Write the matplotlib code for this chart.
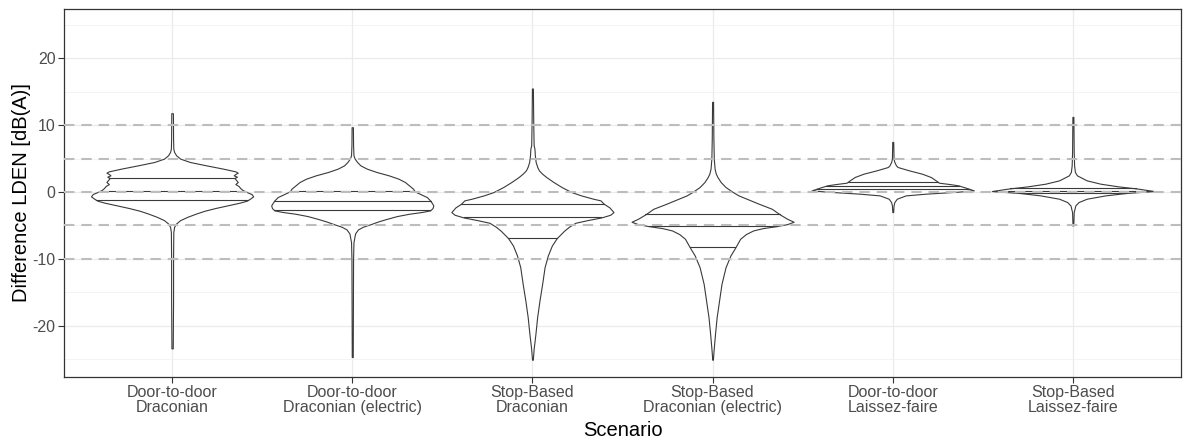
import numpy as np
import matplotlib
matplotlib.use("Agg")
import matplotlib.pyplot as plt

plt.rcParams['font.family'] = ['Liberation Sans', 'DejaVu Sans']
plt.rcParams['axes.unicode_minus'] = False

categories = ["Door-to-door\nDraconian", "Door-to-door\nDraconian (electric)",
              "Stop-Based\nDraconian", "Stop-Based\nDraconian (electric)",
              "Door-to-door\nLaissez-faire", "Stop-Based\nLaissez-faire"]

# Violin outlines: value levels and relative half-widths
v1_y = [11.8, 8.0, 6.5, 6.0, 5.5, 5.0, 4.5, 4.0, 3.5, 3.1, 2.9, 2.7, 2.5, 2.3, 2.1, 1.8, 1.5, 1.2, 0.9,
        0.6, 0.3, 0.0, -0.3, -0.65, -1.0, -1.3, -1.6, -2.0, -2.4, -2.8, -3.2, -3.7, -4.2, -4.7, -5.2,
        -6.0, -10.0, -16.0, -23.4]
v1_w = [0.01, 0.012, 0.015, 0.025, 0.05, 0.1, 0.22, 0.42, 0.63, 0.78, 0.81, 0.78, 0.76, 0.8, 0.77, 0.79,
        0.81, 0.78, 0.82, 0.84, 0.87, 0.92, 0.98, 1.0, 0.96, 0.92, 0.83, 0.68, 0.53, 0.4, 0.3, 0.19, 0.1,
        0.05, 0.025, 0.015, 0.012, 0.012, 0.008]

v2_y = [9.7, 7.0, 5.5, 5.0, 4.5, 4.0, 3.5, 3.0, 2.5, 2.0, 1.5, 1.0, 0.5, 0.1, -0.3, -0.75, -1.25, -1.6,
        -2.0, -2.4, -2.75, -3.0, -3.25, -3.6, -4.0, -4.4, -4.75, -5.2, -5.6, -6.2, -7.5, -10.0, -24.7]
v2_w = [0.008, 0.01, 0.015, 0.03, 0.06, 0.1, 0.18, 0.3, 0.45, 0.57, 0.65, 0.7, 0.75, 0.77, 0.84, 0.92,
        0.96, 0.98, 1.0, 0.99, 0.96, 0.85, 0.7, 0.55, 0.43, 0.32, 0.24, 0.13, 0.07, 0.035, 0.015, 0.01, 0.006]

v3_y = [15.5, 10.5, 7.0, 6.5, 5.5, 4.5, 3.75, 3.25, 2.75, 2.25, 1.5, 0.75, 0.0, -0.5, -1.0, -1.25, -1.75,
        -2.3, -3.0, -3.4, -3.8, -4.2, -4.6, -5.2, -5.8, -6.9, -8.0, -9.5, -11.25, -13.75, -16.25, -18.75,
        -21.25, -23.5, -25.1]
v3_w = [0.006, 0.01, 0.015, 0.025, 0.03, 0.04, 0.06, 0.08, 0.12, 0.17, 0.26, 0.36, 0.48, 0.6, 0.75, 0.84,
        0.88, 0.95, 1.0, 0.96, 0.85, 0.68, 0.53, 0.45, 0.39, 0.3, 0.24, 0.19, 0.15, 0.12, 0.087, 0.058,
        0.037, 0.015, 0.005]

v4_y = [13.5, 8.0, 5.0, 3.5, 2.75, 2.25, 1.5, 0.75, 0.0, -0.5, -1.0, -1.75, -2.5, -3.35, -4.0, -4.45,
        -4.8, -5.1, -5.4, -5.75, -6.3, -7.0, -8.3, -9.5, -11.25, -13.75, -16.25, -18.75, -21.25, -23.75, -25.1]
v4_w = [0.006, 0.01, 0.015, 0.025, 0.04, 0.06, 0.1, 0.16, 0.25, 0.32, 0.42, 0.57, 0.73, 0.83, 0.92, 1.0,
        0.92, 0.79, 0.62, 0.5, 0.41, 0.34, 0.28, 0.22, 0.16, 0.11, 0.08, 0.05, 0.03, 0.012, 0.004]

v5_y = [7.5, 5.0, 4.5, 4.0, 3.75, 3.25, 2.75, 2.25, 1.75, 1.4, 1.2, 1.0, 0.5, 0.25, 0.05, -0.25, -0.5,
        -1.0, -1.5, -2.0, -3.0]
v5_w = [0.006, 0.01, 0.02, 0.04, 0.06, 0.2, 0.36, 0.47, 0.53, 0.57, 0.7, 0.81, 0.94, 1.0, 0.8, 0.4, 0.16,
        0.05, 0.02, 0.01, 0.005]

v6_y = [11.25, 6.0, 4.0, 3.0, 2.5, 1.75, 1.25, 0.85, 0.5, 0.15, -0.15, -0.5, -1.0, -1.5, -2.0, -3.0, -5.0]
v6_w = [0.006, 0.01, 0.015, 0.025, 0.05, 0.17, 0.34, 0.56, 0.81, 1.0, 0.65, 0.4, 0.17, 0.07, 0.03, 0.01, 0.005]

q25 = [-1.2, -2.7, -6.9, -8.3, 0.5, -0.15]
q50 = [0.2, -1.4, -3.8, -5.1, 0.95, 0.2]
q75 = [2.05, 0.1, -1.8, -3.35, 1.55, 0.55]

ref_lines = [-10, -5, 0, 5, 10]

profiles = [(v1_y, v1_w), (v2_y, v2_w), (v3_y, v3_w), (v4_y, v4_w), (v5_y, v5_w), (v6_y, v6_w)]

fig = plt.figure(figsize=(11.83, 4.40), dpi=100)
ax = fig.add_axes([0.0541, 0.143, 0.9442, 0.8365])

half = 0.45
line_col = '#3a3a3a'
for i, (ys, ws) in enumerate(profiles):
    pos = i + 1
    ys = np.asarray(ys, float)
    ws = np.asarray(ws, float) * half
    ax.fill_betweenx(ys, pos - ws, pos + ws, facecolor='white', edgecolor=line_col,
                     linewidth=0.8, zorder=3)
    order = np.argsort(ys)
    for q in (q25[i], q50[i], q75[i]):
        wq = np.interp(q, ys[order], ws[order])
        ax.plot([pos - wq, pos + wq], [q, q], color=line_col, linewidth=0.8, zorder=4)

for r in ref_lines:
    ax.axhline(r, color='#bdbdbd', linestyle=(0, (5, 3.3)), linewidth=1.5, zorder=5)

ax.set_xlim(0.4, 6.6)
ax.set_ylim(-27.7, 27.4)
ax.set_xticks(range(1, 7))
ax.set_xticklabels(categories, fontsize=11.5, color='#4d4d4d', linespacing=1.0)
ax.set_yticks([-20, -10, 0, 10, 20])
ax.set_yticks([-25, -15, -5, 5, 15, 25], minor=True)
ax.tick_params(axis='y', which='minor', length=0)
ax.tick_params(axis='both', which='major', length=4, width=0.8, color='#333333',
               labelsize=11.5, labelcolor='#4d4d4d', pad=2)
ax.grid(True, which='major', color='#ebebeb', linewidth=0.9, zorder=0)
ax.grid(True, which='minor', axis='y', color='#f2f2f2', linewidth=0.6, zorder=0)
ax.set_axisbelow(True)
for s in ax.spines.values():
    s.set_color('#333333')
    s.set_linewidth(0.9)

ax.set_xlabel('Scenario', fontsize=14.5, labelpad=4)
ax.set_ylabel('Difference LDEN [dB(A)]', fontsize=14.5, labelpad=1)

fig.savefig('out.png', dpi=100)
